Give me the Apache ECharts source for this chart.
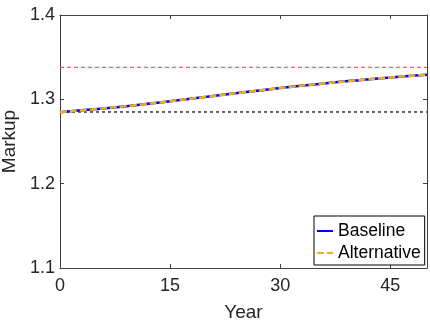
<!DOCTYPE html>
<html>
<head>
<meta charset="utf-8">
<script src="https://cdn.jsdelivr.net/npm/echarts@6/dist/echarts.min.js"></script>
<style>html,body{margin:0;padding:0;background:#fff;}#c{width:430px;height:327px;}</style>
</head>
<body>
<div id="c"></div>
<script>
var years = [0, 5, 10, 15, 20, 25, 30, 35, 40, 45, 50];
var baseline = [1.2848, 1.2885, 1.2928, 1.2978, 1.3030, 1.3083, 1.3133, 1.3180, 1.3222, 1.3260, 1.3292];
var alternative = [1.2848, 1.2885, 1.2928, 1.2978, 1.3030, 1.3083, 1.3133, 1.3180, 1.3222, 1.3260, 1.3292];
var upperRef = 1.338;
var lowerRef = 1.285;
var xTicks = [0, 15, 30, 45];
var yTicks = [1.1, 1.2, 1.3, 1.4];

var FONT = 'Liberation Sans, Arial, sans-serif';
var AX = '#404040';
function pairs(xs, ys) { return xs.map(function (x, i) { return [x, ys[i]]; }); }
var x0 = years[0], x1 = years[years.length - 1];

var chart = echarts.init(document.getElementById('c'), null, { renderer: 'canvas' });
var axisCommon = {
  axisLine: { show: true, onZero: false, lineStyle: { color: AX, width: 1 } },
  splitLine: { show: false }
};
chart.setOption({
  animation: false,
  backgroundColor: '#fff',
  grid: { left: 60, top: 15, right: 3, bottom: 59, containLabel: false, outerBoundsMode: 'none' },
  xAxis: [
    Object.assign({}, axisCommon, {
      type: 'value', min: 0, max: 50, position: 'bottom',
      axisTick: { show: true, inside: true, length: 4, lineStyle: { color: AX }, customValues: xTicks },
      axisLabel: { customValues: xTicks, color: '#262626', fontFamily: FONT, fontSize: 18, margin: 9 },
      name: 'Year', nameLocation: 'middle', nameGap: 35,
      nameTextStyle: { color: '#262626', fontFamily: FONT, fontSize: 19 }
    }),
    Object.assign({}, axisCommon, {
      type: 'value', min: 0, max: 50, position: 'top',
      axisTick: { show: true, inside: true, length: 4, lineStyle: { color: AX }, customValues: xTicks },
      axisLabel: { show: false }
    })
  ],
  yAxis: [
    Object.assign({}, axisCommon, {
      type: 'value', min: 1.1, max: 1.4, position: 'left',
      axisTick: { show: true, inside: true, length: 4, lineStyle: { color: AX }, customValues: yTicks },
      axisLabel: { customValues: yTicks, color: '#262626', fontFamily: FONT, fontSize: 18, margin: 5,
        formatter: function (v) { return v.toFixed(1); } },
      name: 'Markup', nameLocation: 'middle', nameGap: 33,
      nameTextStyle: { color: '#262626', fontFamily: FONT, fontSize: 19 }
    }),
    Object.assign({}, axisCommon, {
      type: 'value', min: 1.1, max: 1.4, position: 'right',
      axisTick: { show: true, inside: true, length: 4, lineStyle: { color: AX }, customValues: yTicks },
      axisLabel: { show: false }
    })
  ],
  legend: {
    data: ['Baseline', 'Alternative'],
    orient: 'vertical', left: 314, top: 216,
    padding: [6, 4, 3, 2], itemGap: 4, itemWidth: 16, itemHeight: 14,
    itemStyle: { opacity: 0 },
    backgroundColor: '#fff', borderColor: '#000', borderWidth: 1, borderRadius: 0,
    textStyle: { color: '#000', fontFamily: FONT, fontSize: 17.5, lineHeight: 17 }
  },
  series: [
    { name: 'upper', type: 'line', symbol: 'none', silent: true,
      data: [[x0, upperRef], [x1, upperRef]],
      lineStyle: { color: '#ff5a5a', width: 1.3, type: [4, 3] } },
    { name: 'lower', type: 'line', symbol: 'none', silent: true,
      data: [[x0, lowerRef], [x1, lowerRef]],
      lineStyle: { color: '#000', width: 1.2, type: [3, 3] } },
    { name: 'Baseline', type: 'line', symbol: 'none', smooth: true,
      data: pairs(years, baseline),
      itemStyle: { color: '#0000ff' },
      lineStyle: { color: '#0000ff', width: 2.5 } },
    { name: 'Alternative', type: 'line', symbol: 'none', smooth: true,
      data: pairs(years, alternative),
      itemStyle: { color: '#EDB120' },
      lineStyle: { color: '#EDB120', width: 2.5, type: [7, 3] } }
  ]
});
</script>
</body>
</html>
